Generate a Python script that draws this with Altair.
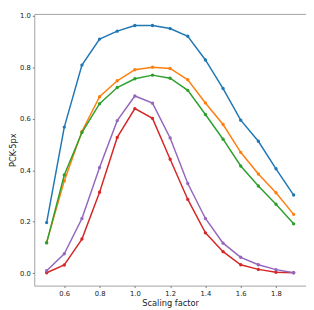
import altair as alt
import pandas as pd

scales = [0.5, 0.6, 0.7, 0.8, 0.9, 1.0, 1.1, 1.2, 1.3, 1.4, 1.5, 1.6, 1.7, 1.8, 1.9]

blue = [0.197, 0.568, 0.809, 0.910, 0.941, 0.963, 0.963, 0.951, 0.921, 0.829, 0.718, 0.595, 0.513, 0.406, 0.304]
orange = [0.120, 0.359, 0.551, 0.686, 0.748, 0.791, 0.801, 0.796, 0.752, 0.662, 0.578, 0.470, 0.386, 0.313, 0.229]
green = [0.118, 0.382, 0.547, 0.659, 0.722, 0.756, 0.770, 0.758, 0.711, 0.617, 0.521, 0.417, 0.339, 0.268, 0.192]
red = [0.002, 0.032, 0.133, 0.315, 0.528, 0.640, 0.602, 0.443, 0.287, 0.157, 0.084, 0.033, 0.015, 0.004, 0.002]
purple = [0.010, 0.076, 0.213, 0.411, 0.593, 0.689, 0.661, 0.526, 0.349, 0.213, 0.117, 0.062, 0.033, 0.014, 0.002]

series_names = ["blue", "orange", "green", "red", "purple"]
series_values = [blue, orange, green, red, purple]
series_colors = ["#1f77b4", "#ff7f0e", "#2ca02c", "#d62728", "#9467bd"]

x_ticks = [0.6, 0.8, 1.0, 1.2, 1.4, 1.6, 1.8]
y_ticks = [0.0, 0.2, 0.4, 0.6, 0.8, 1.0]

rows = []
for name, vals in zip(series_names, series_values):
    for xv, yv in zip(scales, vals):
        rows.append({"series": name, "x": xv, "y": yv})
df = pd.DataFrame(rows)

X = alt.X("x:Q", scale=alt.Scale(domain=[0.43, 1.97], nice=False, zero=False),
          axis=alt.Axis(values=x_ticks, format=".1f", title="Scaling factor"))
Y = alt.Y("y:Q", scale=alt.Scale(domain=[-0.048, 1.008], nice=False, zero=False),
          axis=alt.Axis(values=y_ticks, format=".1f", title="PCK-5px"))

layers = []
for name, color in zip(series_names, series_colors):
    base = alt.Chart(df).transform_filter(alt.datum.series == name)
    layers.append(base.mark_line(color=color, strokeWidth=1.5).encode(x=X, y=Y))
    layers.append(base.mark_circle(color=color, size=12, opacity=1).encode(x=X, y=Y))

chart = alt.layer(*layers).properties(
    width=279, height=279,
    padding={"left": 0, "top": 0, "right": 0, "bottom": 0},
).configure_view(
    stroke="#a0a0a0", strokeWidth=1
).configure_axis(
    grid=False, domain=False, tickColor="#777", tickSize=2,
    labelFontSize=7, titleFontSize=8.5,
    labelFont="DejaVu Sans", titleFont="DejaVu Sans",
    labelColor="#222", titleColor="#222", titleFontWeight="normal",
    labelPadding=2, titlePadding=2,
)

chart.save("out.html", embed_options={"renderer": "svg", "actions": False})
